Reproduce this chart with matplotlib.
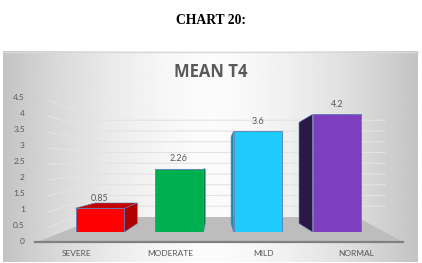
import numpy as np
import matplotlib
matplotlib.use("Agg")
import matplotlib.pyplot as plt
from matplotlib.patches import Polygon

# chart data
categories = ["SEVERE", "MODERATE", "MILD", "NORMAL"]
mean_t4 = [0.85, 2.26, 3.6, 4.2]
y_ticks = [0, 0.5, 1, 1.5, 2, 2.5, 3, 3.5, 4, 4.5]

front_colors = ["#ff0000", "#00b050", "#1ecbfa", "#7e3fbf"]
side_colors = ["#b00000", "#00804a", "#0f8fb8", "#2b1845"]
top_colors = ["#c40000", "#009a48", "#22b4e0", "#6a34a3"]

W, H = 422, 263
fig = plt.figure(figsize=(W / 100, H / 100), dpi=100)
fig.patch.set_facecolor("white")

# background in pixel space (y down)
bg = fig.add_axes([0, 0, 1, 1])
bg.set_xlim(0, W)
bg.set_ylim(H, 0)
bg.axis("off")

xs = np.linspace(0, 1, 400)
shade = 0.985 - 0.22 * np.abs((xs - 0.5) / 0.5) ** 1.6
grad = np.tile(shade, (60, 1))
bg.imshow(grad, cmap="gray", vmin=0, vmax=1, extent=(3, 418, 262, 51),
          aspect="auto", zorder=0)
bg.plot([3, 418], [51.5, 51.5], color="#d9d9d9", lw=1, zorder=1)

fig.text(0.5, 1 - 20 / H, "CHART 20:", ha="center", va="center",
         fontfamily="Liberation Serif", fontweight="bold", fontsize=9.8)
fig.text(0.5, 1 - 72 / H, "MEAN T4", ha="center", va="center",
         fontfamily="Open Sans", fontweight="bold", fontsize=12, color="#595959")

# floor
floor = Polygon([(40, 241), (100, 217), (357, 217), (401, 241)], closed=True,
                facecolor="#bdbdbd", edgecolor="none", zorder=1)
bg.add_patch(floor)

# gridlines: side wall slant then back wall
for v in y_ticks[1:]:
    yf = 241 - 32 * v
    yb = 217 - 21.5 * v
    bg.plot([48, 97, 385], [yf + 3, yb, yb], color="#e3e3e3", lw=0.8, zorder=1)
bg.plot([35, 403], [241.5, 241.5], color="#808080", lw=1.6, zorder=2)

# value axis labels
ax_t = fig.add_axes([27 / W, 22 / H, 0.5 / W, 160 / H])
ax_t.set_ylim(0, 5)
ax_t.set_yticks(y_ticks)
ax_t.set_yticklabels([f"{t:g}" for t in y_ticks], fontfamily="Lato",
                     fontsize=6, color="#595959")
ax_t.tick_params(axis="y", length=0, pad=1.5)
ax_t.set_xticks([])
for s in ax_t.spines.values():
    s.set_visible(False)
ax_t.patch.set_alpha(0)

# category labels
ax_c = fig.add_axes([30.5 / W, 22 / H, 372 / W, 0.5 / H])
ax_c.set_xlim(-0.5, 3.5)
ax_c.set_xticks(range(len(categories)))
ax_c.set_xticklabels(categories, fontfamily="Lato", fontsize=6, color="#595959")
ax_c.tick_params(axis="x", length=0, pad=6.5)
ax_c.set_yticks([])
for s in ax_c.spines.values():
    s.set_visible(False)
ax_c.patch.set_alpha(0)

# bars
ax = fig.add_axes([60.5 / W, 31 / H, 316 / W, 140 / H])
ax.set_xlim(-0.5, 3.5)
ax.set_ylim(0, 5)
ax.axis("off")
ax.patch.set_alpha(0)

bw = 0.62
vx, vy, f = 1.47, 2.18, 0.14   # vanishing point and depth, data units


def back(p):
    return (p[0] + f * (vx - p[0]), p[1] + f * (vy - p[1]))


x = np.arange(len(categories))
bars = ax.bar(x, mean_t4, width=bw, color=front_colors, edgecolor="#5a7bb5",
              linewidth=0.6, zorder=5)
for i, (b, v) in enumerate(zip(bars, mean_t4)):
    x0, x1 = b.get_x(), b.get_x() + b.get_width()
    if x0 > vx:
        pts = [(x0, 0), (x0, v), back((x0, v)), back((x0, 0))]
    else:
        pts = [(x1, 0), (x1, v), back((x1, v)), back((x1, 0))]
    ax.add_patch(Polygon(pts, closed=True, facecolor=side_colors[i],
                         edgecolor="#5a7bb5", lw=0.4, zorder=4, clip_on=False))
    if v < vy:
        top = [(x0, v), (x1, v), back((x1, v)), back((x0, v))]
        ax.add_patch(Polygon(top, closed=True, facecolor=top_colors[i],
                             edgecolor="#5a7bb5", lw=0.4, zorder=4, clip_on=False))
    ax.annotate(f"{v:g}", (b.get_x() + b.get_width() / 2, v),
                xytext=(0, 7.2), textcoords="offset points", ha="center",
                va="center", fontfamily="Lato", fontsize=6.5, color="#595959",
                zorder=6)

fig.savefig("out.png", dpi=100)
